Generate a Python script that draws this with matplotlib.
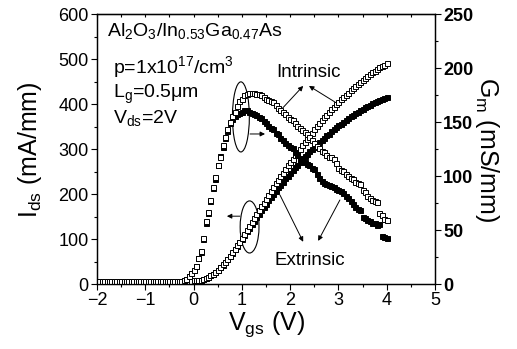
import numpy as np
import matplotlib
matplotlib.use("Agg")
import matplotlib.pyplot as plt
from matplotlib.patches import Ellipse
from matplotlib.ticker import MultipleLocator

plt.rcParams['font.family'] = 'Liberation Sans'
plt.rcParams['mathtext.fontset'] = 'custom'
plt.rcParams['mathtext.rm'] = 'Liberation Sans'
plt.rcParams['mathtext.it'] = 'Liberation Sans'
plt.rcParams['mathtext.bf'] = 'Liberation Sans:bold'

# Vgs grid (V), 0.05 V steps from -2 to 4
vgs = np.round(np.arange(-2.0, 4.001, 0.05), 2)

# drain current, mA/mm (left axis)
ids_intr = [7, 6, 7, 7, 6, 7, 7, 6, 7, 7, 6, 7, 7, 6, 7, 7, 6, 7, 7, 6, 7, 7, 6, 7, 7, 6, 7, 7, 6, 7, 7, 6, 7, 7,
            7, 7, 7, 7, 7, 7, 8, 8, 9, 10, 11, 13, 16, 19, 23, 27, 32, 38, 44, 50, 56, 63, 71, 78, 86, 94,
            103, 111, 120, 129, 138, 146, 155, 164, 173, 181, 190, 199, 207, 216, 224, 232, 240, 248, 256, 264,
            272, 279, 287, 294, 301, 309, 316, 323, 330, 337, 344, 351, 358, 365, 371, 377, 383, 389, 394, 400,
            405, 411, 416, 421, 426, 431, 436, 441, 446, 450, 455, 459, 463, 467, 471, 475, 478, 482, 485, 488, 491]
ids_extr = [6, 6, 5, 6, 6, 5, 6, 6, 5, 6, 6, 5, 6, 6, 5, 6, 6, 5, 6, 6, 5, 6, 6, 5, 6, 6, 5, 6, 6, 5, 6, 6, 5, 6,
            6, 6, 6, 6, 6, 6, 7, 7, 8, 9, 11, 13, 16, 19, 23, 27, 32, 37, 43, 49, 56, 63, 70, 78, 85, 93,
            101, 109, 117, 125, 133, 141, 149, 156, 164, 172, 179, 187, 194, 201, 208, 215, 221, 228, 235, 241,
            248, 254, 260, 266, 272, 278, 284, 289, 295, 300, 305, 311, 316, 321, 326, 331, 335, 340, 344, 349,
            353, 357, 361, 365, 369, 373, 376, 380, 384, 387, 390, 393, 396, 399, 402, 405, 408, 410, 412, 414, 416]

# transconductance, mS/mm (right axis)
gm_intr = [3, 3, 3, 3, 3, 3, 3, 3, 3, 3, 3, 3, 3, 3, 3, 3, 3, 3, 3, 3, 3, 3, 3, 3, 3, 3, 3, 3, 3, 3, 3, 3, 3, 3,
           3, 3, 4, 5, 7, 10, 13, 17, 24, 31, 43, 58, 67, 78, 90, 99, 110, 118, 129, 136, 144, 150, 156, 160, 165, 170,
           172, 175, 176, 177, 177, 177, 176, 176, 175, 173, 172, 171, 170, 169, 166, 163, 161, 160, 158, 155,
           153, 152, 149, 147, 145, 143, 141, 139, 136, 134, 131, 128, 126, 123, 122, 120, 118, 118, 116, 112,
           108, 106, 105, 102, 100, 98, 97, 95, 94, 93, 87, 85, 82, 80, 78, 77, 76, 66, 64, 60, 59]
gm_extr = [3, 3, 3, 3, 3, 3, 3, 3, 3, 3, 3, 3, 3, 3, 3, 3, 3, 3, 3, 3, 3, 3, 3, 3, 3, 3, 3, 3, 3, 3, 3, 3, 3, 3,
           3, 3, 4, 5, 7, 10, 13, 17, 24, 30, 42, 57, 66, 77, 89, 97, 110, 119, 127, 135, 142, 149, 153, 156, 158, 159,
           160, 161, 161, 160, 159, 158, 157, 155, 154, 151, 149, 147, 145, 144, 140, 139, 135, 134, 131, 129,
           127, 126, 122, 120, 117, 116, 113, 111, 110, 108, 107, 102, 98, 96, 94, 93, 92, 91, 90, 88,
           87, 86, 84, 82, 80, 77, 74, 71, 70, 69, 62, 61, 59, 58, 57, 57, 55, 56, 45, 44, 43]

fig = plt.figure(figsize=(5.17, 3.49), dpi=100)
ax1 = fig.add_axes([0.1876, 0.1862, 0.6538, 0.7723])
ax2 = ax1.twinx()

mk = dict(marker='s', markersize=3.6, markeredgewidth=0.7, linestyle='none', markeredgecolor='black')
ax1.plot(vgs, ids_extr, markerfacecolor='black', **mk)
ax1.plot(vgs, ids_intr, markerfacecolor='white', **mk)
ax2.plot(vgs, gm_extr, markerfacecolor='black', **mk)
ax2.plot(vgs, gm_intr, markerfacecolor='white', **mk)

ax1.set_xlim(-2, 5)
ax1.set_ylim(0, 600)
ax2.set_ylim(0, 250)
ax1.xaxis.set_major_locator(MultipleLocator(1))
ax1.xaxis.set_minor_locator(MultipleLocator(0.5))
ax1.yaxis.set_major_locator(MultipleLocator(100))
ax1.yaxis.set_minor_locator(MultipleLocator(50))
ax2.yaxis.set_major_locator(MultipleLocator(50))
ax2.yaxis.set_minor_locator(MultipleLocator(25))

ax1.tick_params(which='major', direction='out', length=4, width=0.8, labelsize=13, pad=2)
ax1.tick_params(which='minor', direction='out', length=2.5, width=0.8)
ax2.tick_params(which='major', direction='out', length=4, width=0.8, labelsize=13, pad=2)
ax2.tick_params(which='minor', direction='out', length=2.5, width=0.8)
for lab in ax2.get_yticklabels():
    lab.set_fontweight('bold')

top = ax1.secondary_xaxis('top')
top.xaxis.set_major_locator(MultipleLocator(0.5))
top.tick_params(direction='in', length=2.5, width=0.8, labeltop=False)

for a in (ax1, ax2):
    for s in a.spines.values():
        s.set_linewidth(0.9)

ax1.set_xlabel(r'V$_\mathregular{gs}$ (V)', fontsize=18, labelpad=0)
ax1.set_ylabel(r'I$_\mathregular{ds}$ (mA/mm)', fontsize=18, labelpad=10)
ax2.set_ylabel(r'G$_\mathregular{m}$ (mS/mm)', fontsize=18, rotation=270, labelpad=20)

# sample description
ax1.text(-1.79, 552, r'Al$_\mathregular{2}$O$_\mathregular{3}$/In$_\mathregular{0.53}$Ga$_\mathregular{0.47}$As',
         fontsize=14, va='baseline')
ax1.text(-1.67, 470, r'p=1x10$^\mathregular{17}$/cm$^\mathregular{3}$', fontsize=14, va='baseline')
ax1.text(-1.67, 414, r'L$_\mathregular{g}$=0.5μm', fontsize=14, va='baseline')
ax1.text(-1.67, 358, r'V$_\mathregular{ds}$=2V', fontsize=14, va='baseline')

# ellipses with arrows pointing to the matching axis
ax1.add_patch(Ellipse((0.98, 372), 0.35, 156, fill=False, lw=0.8, ec='black'))
ax1.add_patch(Ellipse((1.16, 127), 0.39, 116, fill=False, lw=0.8, ec='black'))
arw = dict(arrowstyle='-|>', lw=0.7, color='black', mutation_scale=7, shrinkA=0, shrinkB=0)
ax1.annotate('', xy=(1.48, 334), xytext=(1.17, 334), arrowprops=arw)
ax1.annotate('', xy=(0.69, 151), xytext=(0.96, 151), arrowprops=arw)

ax1.text(2.39, 470, 'Intrinsic', fontsize=13.5, ha='center', va='center')
ax1.annotate('', xy=(2.27, 441), xytext=(1.83, 390), arrowprops=arw)
ax1.annotate('', xy=(2.39, 441), xytext=(2.93, 405), arrowprops=arw)

ax1.text(2.41, 53, 'Extrinsic', fontsize=13.5, ha='center', va='center')
ax1.annotate('', xy=(2.27, 94), xytext=(1.79, 198), arrowprops=arw)
ax1.annotate('', xy=(2.58, 96), xytext=(3.03, 187), arrowprops=arw)

fig.savefig('out.png', dpi=100)
